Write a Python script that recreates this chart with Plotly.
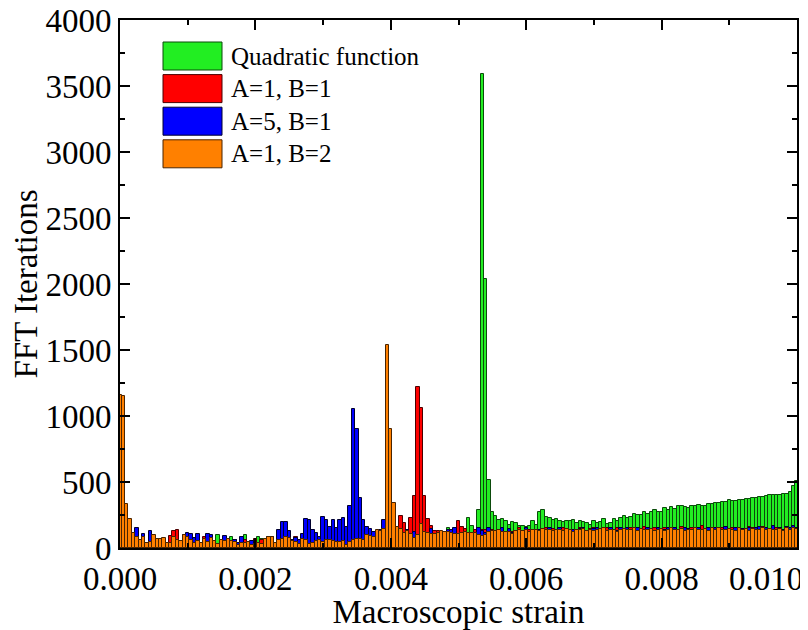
import plotly.graph_objects as go

# ---------------- data ----------------
bin_width = 0.00005
strain = [round(i * bin_width, 6) for i in range(201)]

series_names = ["Quadratic function", "A=1, B=1", "A=5, B=1", "A=1, B=2"]

quadratic = [
    1100, 1100, 290, 190, 95, 65, 45, 60, 30, 35,
    75, 55, 50, 60, 25, 25, 70, 50, 45, 80,
    65, 45, 30, 45, 25, 55, 35, 60, 45, 98,
    45, 40, 55, 86, 40, 20, 35, 98, 40, 18,
    25, 80, 72, 55, 70, 70, 30, 50, 55, 65,
    60, 45, 40, 25, 50, 50, 25, 30, 45, 50,
    40, 50, 50, 42, 40, 40, 45, 20, 40, 50,
    60, 55, 50, 85, 80, 75, 115, 115, 120, 130,
    140, 130, 140, 130, 100, 115, 100, 70, 95, 150,
    115, 110, 100, 100, 105, 120, 118, 149, 105, 100,
    100, 105, 115, 230, 167, 110, 288, 3590, 2040, 512,
    273, 240, 212, 217, 205, 174, 199, 187, 169, 167,
    162, 169, 207, 174, 275, 288, 232, 225, 212, 217,
    207, 199, 205, 205, 212, 192, 207, 194, 192, 174,
    207, 192, 199, 217, 182, 192, 217, 207, 225, 242,
    225, 237, 255, 250, 250, 275, 255, 275, 288, 270,
    275, 300, 288, 308, 293, 318, 318, 313, 305, 320,
    318, 325, 315, 320, 330, 335, 340, 338, 350, 345,
    360, 355, 358, 365, 362, 368, 372, 380, 378, 385,
    390, 395, 398, 400, 398, 405, 408, 410, 425, 470,
    510,
]

a1_b1 = [
    1150, 1140, 300, 200, 100, 70, 50, 60, 35, 40,
    80, 60, 55, 60, 30, 90, 130, 140, 45, 80,
    70, 50, 35, 45, 30, 80, 40, 60, 45, 25,
    50, 40, 60, 45, 60, 20, 35, 62, 40, 18,
    70, 35, 60, 60, 75, 75, 30, 50, 55, 70,
    65, 45, 86, 25, 55, 50, 25, 30, 45, 50,
    40, 50, 50, 42, 40, 40, 45, 20, 40, 50,
    60, 55, 50, 85, 80, 75, 120, 120, 130, 140,
    150, 140, 150, 242, 192, 120, 225, 396, 1222, 1058,
    394, 222, 169, 126, 131, 120, 115, 110, 100, 98,
    207, 157, 146, 105, 105, 136, 120, 140, 135, 140,
    140, 120, 130, 135, 125, 120, 118, 125, 150, 120,
    135, 138, 130, 132, 135, 138, 150, 135, 142, 130,
    135, 150, 140, 132, 135, 138, 150, 135, 128, 142,
    150, 135, 140, 145, 155, 130, 135, 150, 130, 140,
    135, 150, 145, 140, 135, 160, 130, 140, 150, 135,
    140, 150, 155, 145, 130, 135, 160, 140, 135, 150,
    145, 135, 165, 140, 150, 142, 145, 140, 155, 132,
    140, 155, 140, 145, 130, 140, 160, 150, 135, 150,
    160, 135, 140, 155, 150, 140, 140, 145, 155, 145,
    140,
]

a5_b1 = [
    1140, 1130, 310, 210, 105, 155, 55, 105, 38, 128,
    90, 65, 60, 70, 30, 30, 80, 55, 50, 95,
    115, 105, 75, 103, 32, 60, 106, 100, 50, 28,
    55, 91, 65, 50, 60, 40, 80, 30, 40, 50,
    25, 35, 25, 60, 80, 80, 40, 136, 200, 200,
    131, 60, 73, 60, 103, 217, 212, 136, 111, 86,
    232, 212, 161, 212, 154, 212, 225, 161, 318, 1050,
    899, 376, 212, 161, 141, 124, 110, 140, 212, 150,
    130, 130, 140, 130, 100, 135, 100, 124, 95, 150,
    110, 105, 141, 100, 100, 120, 115, 140, 135, 149,
    100, 100, 110, 105, 100, 100, 149, 130, 110, 150,
    130, 125, 140, 150, 120, 145, 110, 128, 132, 125,
    150, 125, 130, 140, 135, 140, 130, 155, 125, 132,
    150, 130, 140, 135, 140, 130, 145, 150, 128, 130,
    145, 155, 135, 140, 130, 150, 135, 130, 150, 135,
    150, 130, 140, 155, 140, 135, 150, 140, 128, 155,
    140, 135, 150, 140, 150, 135, 140, 150, 145, 130,
    140, 150, 135, 140, 155, 135, 150, 145, 135, 160,
    140, 135, 150, 140, 145, 135, 150, 140, 150, 160,
    140, 150, 135, 165, 140, 150, 135, 160, 150, 170,
    150,
]

a1_b2 = [
    1160, 1155, 330, 220, 115, 85, 60, 80, 40, 45,
    100, 70, 65, 75, 35, 35, 85, 60, 55, 100,
    80, 60, 40, 55, 35, 70, 45, 75, 55, 30,
    60, 50, 70, 55, 45, 25, 40, 35, 45, 20,
    30, 40, 30, 70, 85, 86, 35, 60, 65, 80,
    75, 55, 48, 30, 65, 60, 30, 35, 53, 60,
    48, 60, 60, 50, 48, 48, 55, 23, 48, 60,
    70, 65, 60, 98, 93, 86, 136, 131, 145, 1538,
    899, 338, 162, 141, 111, 129, 106, 73, 100, 182,
    124, 116, 106, 106, 110, 131, 124, 120, 110, 106,
    106, 110, 120, 116, 115, 111, 100, 90, 95, 125,
    130, 128, 135, 120, 118, 125, 105, 130, 135, 128,
    140, 122, 135, 138, 130, 142, 136, 140, 128, 135,
    140, 132, 145, 138, 118, 140, 136, 142, 130, 135,
    128, 140, 145, 150, 132, 138, 140, 120, 136, 145,
    140, 135, 150, 128, 142, 140, 138, 145, 132, 140,
    145, 130, 138, 150, 135, 140, 146, 132, 140, 138,
    150, 136, 140, 145, 132, 148, 138, 150, 140, 135,
    145, 140, 132, 150, 138, 142, 130, 145, 140, 136,
    150, 138, 142, 135, 140, 145, 132, 148, 140, 150,
    145,
]

x_tick_vals = [0.0, 0.002, 0.004, 0.006, 0.008, 0.010]
x_tick_text = ["0.000", "0.002", "0.004", "0.006", "0.008", "0.010"]
y_tick_vals = [0, 500, 1000, 1500, 2000, 2500, 3000, 3500, 4000]

# ---------------- styling ----------------
fills = ["#22ee22", "#ff0000", "#0000ff", "#ff8000"]
edges = ["#0b4a0b", "#4a0000", "#00002e", "#4a2400"]
FONT = "Liberation Serif"

fig = go.Figure()
for name, vals, fc, ec in zip(series_names, [quadratic, a1_b1, a5_b1, a1_b2], fills, edges):
    fig.add_trace(go.Bar(
        x=strain, y=vals, name=name, width=bin_width,
        marker=dict(color=fc, line=dict(color=ec, width=1)),
        showlegend=False,
    ))

# page has an 8px body margin: figure is 800x622 drawn from (8, 8)
OFF = 8
FW, FH = 800, 622
L, R, T, B = 120 - OFF, 11, 20 - OFF, 82
W, H = FW - L - R, FH - T - B


def px_x(p):
    return (p - OFF - L) / W


def px_y(p):
    return (FH - B - (p - OFF)) / H


for k, (name, fc, ec) in enumerate(zip(series_names, fills, edges)):
    top = 42 + k * 32.6
    fig.add_shape(type="rect", xref="paper", yref="paper",
                  x0=px_x(163), x1=px_x(222), y0=px_y(top + 28), y1=px_y(top),
                  fillcolor=fc, line=dict(color=ec, width=1))
    fig.add_annotation(xref="paper", yref="paper", x=px_x(229), y=px_y(top + 14),
                       text=name, showarrow=False, xanchor="left", yanchor="middle",
                       font=dict(family=FONT, size=25, color="black"))

# last x tick label sits inside the page edge (drawn as annotation)
fig.add_annotation(xref="paper", yref="paper", x=px_x(805), y=px_y(579),
                   text=x_tick_text[-1], showarrow=False, xanchor="right", yanchor="middle",
                   font=dict(family=FONT, size=33, color="black"))
x_tick_text_axis = x_tick_text[:-1] + [""]

axis_common = dict(
    showline=True, linewidth=2, linecolor="black", mirror="ticks",
    ticks="inside", ticklen=10, tickwidth=2, tickcolor="black",
    showgrid=False, zeroline=False,
    tickfont=dict(family=FONT, size=33, color="black"),
    automargin=False, ticklabeloverflow="allow",
)

fig.update_layout(
    width=FW, height=FH,
    margin=dict(l=L, r=R, t=T, b=B),
    paper_bgcolor="white", plot_bgcolor="white",
    barmode="overlay", bargap=0,
    font=dict(family=FONT, color="black"),
    xaxis=dict(range=[0, 0.01], tickmode="array", tickvals=x_tick_vals, ticktext=x_tick_text_axis,
               minor=dict(tickmode="linear", tick0=0, dtick=0.001, ticks="inside",
                          ticklen=5, tickwidth=2, tickcolor="black"),
               title=dict(text="Macroscopic strain", font=dict(family=FONT, size=33), standoff=0),
               **axis_common),
    yaxis=dict(range=[0, 4000], tickmode="array", tickvals=y_tick_vals,
               minor=dict(tickmode="linear", tick0=0, dtick=250, ticks="inside",
                          ticklen=5, tickwidth=2, tickcolor="black"),
               title=dict(text="FFT Iterations", font=dict(family=FONT, size=33), standoff=0),
               **axis_common),
)

fig.write_html("out.html")
